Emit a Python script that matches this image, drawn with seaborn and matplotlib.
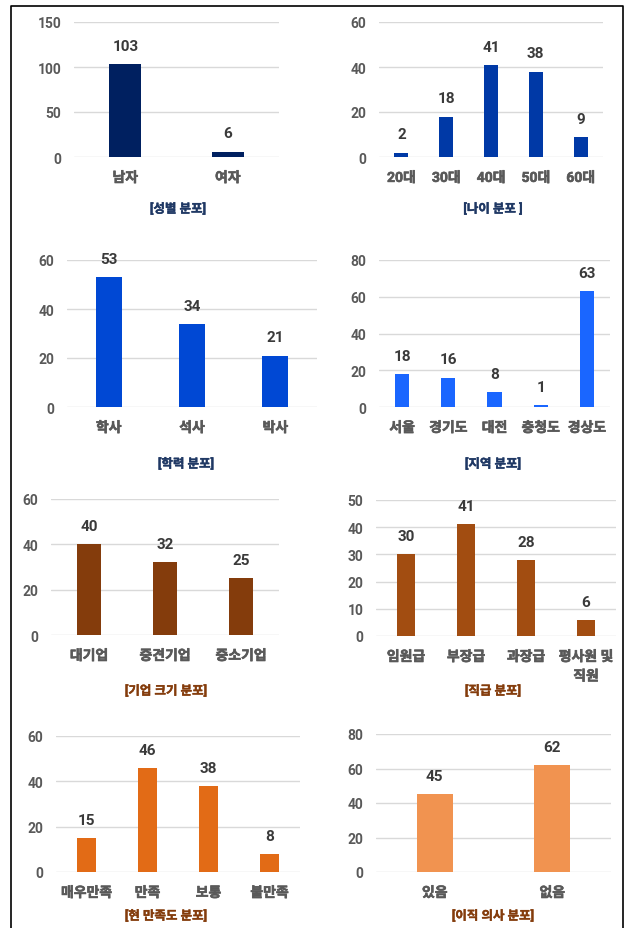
import matplotlib
matplotlib.use("Agg")
import matplotlib.pyplot as plt
from matplotlib.lines import Line2D
import matplotlib.patheffects as pe
import seaborn as sns

# ---------------- data ----------------
gender_cats = ["남자", "여자"]
gender_vals = [103, 6]
age_cats = ["20대", "30대", "40대", "50대", "60대"]
age_vals = [2, 18, 41, 38, 9]
edu_cats = ["학사", "석사", "박사"]
edu_vals = [53, 34, 21]
region_cats = ["서울", "경기도", "대전", "충청도", "경상도"]
region_vals = [18, 16, 8, 1, 63]
size_cats = ["대기업", "중견기업", "중소기업"]
size_vals = [40, 32, 25]
rank_cats = ["임원급", "부장급", "과장급", "평사원 및\n직원"]
rank_vals = [30, 41, 28, 6]
sat_cats = ["매우만족", "만족", "보통", "불만족"]
sat_vals = [15, 46, 38, 8]
quit_cats = ["있음", "없음"]
quit_vals = [45, 62]

titles = ["[성별 분포]", "[나이 분포 ]", "[학력 분포]", "[지역 분포]",
          "[기업 크기 분포]", "[직급 분포]", "[현 만족도 분포]", "[이직 의사 분포]"]
y_maxes = [150, 60, 60, 80, 60, 50, 60, 80]
y_steps = [50, 20, 20, 20, 20, 10, 20, 20]

# ---------------- style ----------------
sns.set_theme(style="white")
plt.rcParams["font.family"] = ["Roboto", "Noto Sans CJK KR", "DejaVu Sans"]

W, H = 625, 929
fig = plt.figure(figsize=(W / 100, H / 100), dpi=100)
fig.patch.set_facecolor("white")

panels = [
    (gender_cats, gender_vals, "#002060", (74, 279, 23, 158), (178, 210), "#1F3864"),
    (age_cats, age_vals, "#0039A6", (379, 603, 23, 158), (493, 210), "#1F3864"),
    (edu_cats, edu_vals, "#0048D4", (67, 317, 261, 408), (186, 465), "#1F3864"),
    (region_cats, region_vals, "#1A66FF", (379, 610, 261, 408), (493, 465), "#1F3864"),
    (size_cats, size_vals, "#843C0C", (51, 279, 500, 636), (166, 692), "#843C0C"),
    (rank_cats, rank_vals, "#A24D11", (376, 616, 501, 637), (493, 692), "#843C0C"),
    (sat_cats, sat_vals, "#E26B16", (56, 300, 737, 873), (166, 917), "#843C0C"),
    (quit_cats, quit_vals, "#F19350", (376, 611, 735, 873), (493, 917), "#843C0C"),
]

for i, (cats, vals, color, (l, r, t, b), (tx, ty), tcol) in enumerate(panels):
    ax = fig.add_axes([l / W, 1 - b / H, (r - l) / W, (b - t) / H])
    sns.barplot(x=cats, y=vals, color=color, saturation=1, width=0.31,
                linewidth=0, ax=ax)
    n = len(cats)
    ax.set_xlim(-0.5, n - 0.5)
    ax.set_ylim(0, y_maxes[i])
    ax.set_yticks(range(0, y_maxes[i] + 1, y_steps[i]))
    for s in ax.spines.values():
        s.set_visible(False)
    ax.yaxis.grid(True, color="#D9D9D9", linewidth=1)
    ax.xaxis.grid(False)
    ax.set_axisbelow(True)
    ax.tick_params(axis="y", length=0, pad=9, labelsize=10, labelcolor="#595959")
    ax.tick_params(axis="x", length=0, pad=10, labelsize=10, labelcolor="#595959")
    for lab in ax.get_yticklabels():
        lab.set_fontweight("bold")
    for lab in ax.get_xticklabels():
        lab.set_fontweight("bold")
        lab.set_linespacing(1.5)
        lab.set_path_effects([pe.withStroke(linewidth=0.45, foreground="#595959")])
    ax.set_xlabel("")
    ax.set_ylabel("")
    for cont in ax.containers:
        ax.bar_label(cont, padding=8, fontsize=11, fontweight="bold",
                     color="#3A3A3A")
    fig.text(tx / W, 1 - ty / H, titles[i], ha="center", va="center",
             fontsize=9, fontweight="bold", color=tcol,
             path_effects=[pe.withStroke(linewidth=0.3, foreground=tcol)])

# outer frame (left, top, right)
xs = [11 / W, 11 / W, 623 / W, 623 / W]
ys = [0, 1 - 7 / H, 1 - 7 / H, 0]
fig.add_artist(Line2D(xs, ys, color="black", linewidth=1.2,
                      transform=fig.transFigure))

fig.savefig("out.png", dpi=100)
